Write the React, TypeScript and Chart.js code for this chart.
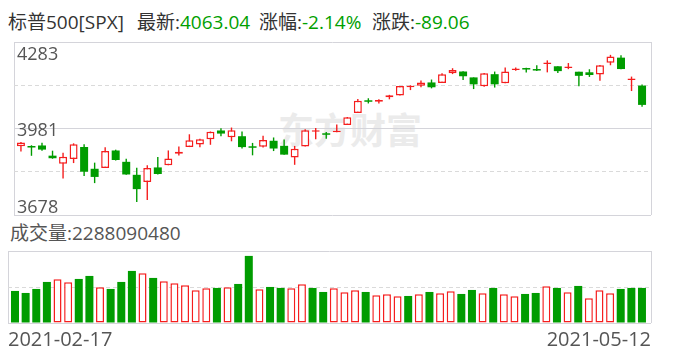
import React, { useEffect, useRef } from "react";
import { Chart, registerables } from "chart.js";

Chart.register(...registerables);

// ---------- data ----------
const TITLE = "标普500[SPX]";
const X_LABELS = ["2021-02-17", "2021-05-12"];

const OPEN = [
  3918.5, 3915.86, 3921.16, 3885.55, 3857.07, 3873.71, 3915.8, 3839.66, 3842.51, 3903.64,
  3863.99, 3818.53, 3793.58, 3844.39, 3851.93, 3891.99, 3915.54, 3924.52, 3942.96, 3973.59,
  3949.57, 3953.5, 3913.14, 3916.48, 3937.6, 3919.93, 3879.34, 3917.12, 3969.31, 3963.34,
  3967.25, 3992.78, 4034.44, 4075.57, 4074.29, 4089.95, 4096.11, 4124.71, 4130.1, 4141.58,
  4139.76, 4174.14, 4179.8, 4159.18, 4128.42, 4170.46, 4138.78, 4185.03, 4188.25, 4185.14,
  4206.14, 4198.1, 4191.98, 4179.04, 4177.06, 4169.14, 4210.34, 4228.29, 4150.34, 4130.55,
];
const HIGH = [
  3933.61, 3921.98, 3930.41, 3902.92, 3895.98, 3928.65, 3925.02, 3861.08, 3914.5, 3906.41,
  3874.47, 3843.67, 3851.69, 3881.06, 3903.76, 3917.35, 3960.27, 3944.99, 3970.08, 3981.04,
  3983.87, 3969.62, 3930.12, 3955.31, 3949.13, 3942.08, 3919.54, 3978.19, 3981.83, 3968.01,
  3994.41, 4020.63, 4083.42, 4086.23, 4083.13, 4098.19, 4129.48, 4131.76, 4148.0, 4151.69,
  4173.49, 4191.31, 4180.81, 4159.18, 4175.02, 4179.57, 4194.17, 4194.19, 4193.35, 4201.53,
  4218.78, 4198.1, 4209.39, 4179.04, 4187.72, 4202.7, 4238.04, 4236.39, 4162.04, 4134.73,
];
const LOW = [
  3900.43, 3885.03, 3903.07, 3874.71, 3805.59, 3859.6, 3814.04, 3789.54, 3842.51, 3868.57,
  3818.86, 3723.34, 3730.19, 3819.25, 3851.93, 3885.73, 3915.54, 3915.21, 3923.54, 3953.44,
  3935.74, 3910.86, 3886.75, 3914.16, 3901.57, 3889.07, 3853.5, 3917.12, 3943.25, 3944.35,
  3966.98, 3992.78, 4034.44, 4068.14, 4068.31, 4082.54, 4095.51, 4114.82, 4124.43, 4120.87,
  4139.76, 4170.75, 4150.47, 4118.38, 4126.35, 4123.69, 4138.78, 4182.36, 4176.22, 4181.78,
  4176.81, 4174.85, 4188.03, 4128.59, 4160.94, 4147.33, 4201.64, 4188.13, 4111.53, 4056.88,
];
const CLOSE = [
  3931.33, 3913.97, 3906.71, 3876.5, 3881.37, 3925.43, 3829.34, 3811.15, 3901.82, 3870.29,
  3819.72, 3768.47, 3841.94, 3821.35, 3875.44, 3898.81, 3939.34, 3943.34, 3968.94, 3962.71,
  3974.12, 3915.46, 3913.1, 3940.59, 3910.52, 3889.14, 3909.52, 3974.54, 3971.09, 3958.55,
  3972.89, 4019.87, 4077.91, 4073.94, 4079.95, 4097.17, 4128.8, 4127.99, 4141.59, 4124.66,
  4170.42, 4185.47, 4163.26, 4134.94, 4173.42, 4134.98, 4180.17, 4187.62, 4186.72, 4183.18,
  4211.47, 4181.17, 4192.66, 4164.66, 4167.59, 4201.62, 4232.6, 4188.43, 4152.1, 4063.04,
];
const PREV_CLOSE = 3932.59;

const VOLUME = [
  2092000000, 1961000000, 2223000000, 2680000000, 2855000000, 2658000000, 2876000000, 3072000000, 2332000000, 2223000000,
  2680000000, 3399000000, 3247000000, 2942000000, 2724000000, 2593000000, 2462000000, 2135000000, 2266000000, 2288000000,
  2332000000, 2549000000, 4380000000, 2201000000, 2353000000, 2288000000, 2266000000, 2528000000, 2288000000, 2026000000,
  2266000000, 2005000000, 2135000000, 2026000000, 1809000000, 1874000000, 1743000000, 1765000000, 1874000000, 2026000000,
  1939000000, 2070000000, 1896000000, 2157000000, 1939000000, 2288000000, 1874000000, 1743000000, 1896000000, 1961000000,
  2397000000, 2288000000, 2005000000, 2419000000, 1612000000, 2135000000, 1939000000, 2223000000, 2288000000, 2288090480,
];

const PRICE_MIN = 3678;
const PRICE_MAX = 4283;
const VOL_MAX = 4700000000;
const X_MIN = -0.66;
const X_MAX = 59.85;

// ---------- styles ----------
const RED = "#f51e1e";
const GREEN = "#009c00";
const TEXT_GREEN = "#00a000";
const BORDER = "#d4d4da";
const DASH = "#dadada";
const LABEL = "#555555";
const FONT = '"Open Sans", "Noto Sans CJK SC", sans-serif';

const PRICE_TICKS = [0, 1, 2, 3, 4].map((k) => PRICE_MIN + ((PRICE_MAX - PRICE_MIN) * k) / 4);
const VOL_TICKS = [0, VOL_MAX / 2, VOL_MAX];
// per-tick line heights used to nudge the three price labels (bottom, middle, top)
const TICK_LINE_HEIGHT = ["14px", "20px", "5px", "20px", "25px"];

function PriceChart() {
  const ref = useRef<HTMLCanvasElement>(null);
  useEffect(() => {
    const idx = CLOSE.map((_, i) => i);
    const up = idx.map((i) => CLOSE[i] >= OPEN[i]);
    const chart = new Chart(ref.current as HTMLCanvasElement, {
      type: "bar",
      data: {
        datasets: [
          {
            label: "wick",
            data: idx.map((i) => ({ x: i, y: [LOW[i], HIGH[i]] })),
            backgroundColor: idx.map((i) => (up[i] ? RED : GREEN)),
            borderWidth: 0,
            barThickness: 1.4,
            grouped: false,
            inflateAmount: 0,
            order: 2,
          },
          {
            label: "body",
            data: idx.map((i) => ({ x: i, y: [OPEN[i], CLOSE[i]] })),
            backgroundColor: idx.map((i) => (up[i] ? "#ffffff" : GREEN)),
            borderColor: idx.map((i) => (up[i] ? RED : GREEN)),
            borderWidth: idx.map((i) => (up[i] ? 1.5 : 0)),
            borderSkipped: false,
            barThickness: 8,
            minBarLength: 1.5,
            grouped: false,
            inflateAmount: 0,
            order: 1,
          },
        ],
      } as any,
      options: {
        responsive: false,
        animation: false,
        events: [],
        layout: { padding: { left: 8, right: 37, top: 42, bottom: 0 }, autoPadding: false },
        plugins: { legend: { display: false }, tooltip: { enabled: false } },
        scales: {
          x: {
            type: "linear",
            min: X_MIN,
            max: X_MAX,
            offset: false,
            afterBuildTicks: (s: any) => {
              s.ticks = [{ value: X_MIN }, { value: X_MAX }];
            },
            ticks: { display: false, autoSkip: false },
            grid: { color: BORDER, drawTicks: false, offset: false },
            border: { display: false },
          },
          y: {
            type: "linear",
            min: PRICE_MIN,
            max: PRICE_MAX,
            afterBuildTicks: (s: any) => {
              s.ticks = PRICE_TICKS.map((v) => ({ value: v }));
            },
            ticks: {
              mirror: true,
              padding: 3,
              autoSkip: false,
              color: LABEL,
              font: (ctx: any) => ({ family: FONT, size: 18, lineHeight: TICK_LINE_HEIGHT[ctx.index] || "20px" }),
              callback: (v: any, i: number) => {
                const t = String(Math.round(Number(v)));
                if (i === 4 || i === 2) return ["", t];
                if (i === 0) return [t, ""];
                return "";
              },
            },
            grid: {
              color: (ctx: any) => (ctx.index === 1 || ctx.index === 3 ? DASH : BORDER),
              drawTicks: false,
            },
            border: {
              display: false,
              dash: (ctx: any) => (ctx.index === 1 || ctx.index === 3 ? [4, 3] : []),
            },
          },
        },
      } as any,
    });
    return () => chart.destroy();
  }, []);
  return (
    <canvas
      ref={ref}
      width={688}
      height={232}
      style={{ position: "absolute", left: 0, top: 0, width: 688, height: 232, zIndex: 1 }}
    />
  );
}

function VolumeChart() {
  const ref = useRef<HTMLCanvasElement>(null);
  useEffect(() => {
    const idx = VOLUME.map((_, i) => i);
    const rise = idx.map((i) => CLOSE[i] >= (i === 0 ? PREV_CLOSE : CLOSE[i - 1]));
    const chart = new Chart(ref.current as HTMLCanvasElement, {
      type: "bar",
      data: {
        datasets: [
          {
            label: "volume",
            data: idx.map((i) => ({ x: i, y: VOLUME[i] })),
            backgroundColor: idx.map((i) => (rise[i] ? "#ffffff" : GREEN)),
            borderColor: idx.map((i) => (rise[i] ? RED : GREEN)),
            borderWidth: idx.map((i) => (rise[i] ? 1.5 : 0)),
            borderSkipped: false,
            barThickness: 8,
            grouped: false,
            inflateAmount: 0,
          },
        ],
      } as any,
      options: {
        responsive: false,
        animation: false,
        events: [],
        layout: { padding: { left: 8, right: 37, top: 11, bottom: 7 }, autoPadding: false },
        plugins: { legend: { display: false }, tooltip: { enabled: false } },
        scales: {
          x: {
            type: "linear",
            min: X_MIN,
            max: X_MAX,
            offset: false,
            afterBuildTicks: (s: any) => {
              s.ticks = [{ value: X_MIN }, { value: X_MAX }];
            },
            afterFit: (s: any) => {
              s.height = 30;
            },
            ticks: {
              display: true,
              autoSkip: false,
              align: "inner",
              padding: 7,
              maxRotation: 0,
              minRotation: 0,
              color: LABEL,
              font: { family: FONT, size: 20, lineHeight: "20px" },
              callback: (_v: any, i: number) => X_LABELS[i],
            },
            grid: { color: BORDER, drawTicks: false, offset: false },
            border: { display: false },
          },
          y: {
            type: "linear",
            min: 0,
            max: VOL_MAX,
            afterBuildTicks: (s: any) => {
              s.ticks = VOL_TICKS.map((v) => ({ value: v }));
            },
            ticks: { display: false, autoSkip: false },
            grid: {
              color: (ctx: any) => (ctx.index === 1 ? DASH : BORDER),
              drawTicks: false,
            },
            border: {
              display: false,
              dash: (ctx: any) => (ctx.index === 1 ? [4, 3] : []),
            },
          },
        },
      } as any,
    });
    return () => chart.destroy();
  }, []);
  return (
    <canvas
      ref={ref}
      width={688}
      height={120}
      style={{ position: "absolute", left: 0, top: 240, width: 688, height: 120, zIndex: 1 }}
    />
  );
}

export default function App() {
  const n = CLOSE.length;
  const last = CLOSE[n - 1];
  const change = last - CLOSE[n - 2];
  const pct = (change / CLOSE[n - 2]) * 100;
  const headStyle: React.CSSProperties = {
    position: "absolute",
    top: 10,
    fontFamily: FONT,
    fontSize: 19,
    lineHeight: "24px",
    color: "#333",
    whiteSpace: "nowrap",
  };
  return (
    <div style={{ position: "absolute", left: 0, top: 0, width: 688, height: 360, background: "#fff", overflow: "hidden" }}>
      <div style={{ ...headStyle, left: 8 }}>{TITLE}</div>
      <div style={{ ...headStyle, left: 137 }}>
        最新:<span style={{ color: TEXT_GREEN }}>{last.toFixed(2)}</span>
      </div>
      <div style={{ ...headStyle, left: 259 }}>
        涨幅:<span style={{ color: TEXT_GREEN }}>{pct.toFixed(2)}%</span>
      </div>
      <div style={{ ...headStyle, left: 372 }}>
        涨跌:<span style={{ color: TEXT_GREEN }}>{change.toFixed(2)}</span>
      </div>
      <div
        style={{
          position: "absolute",
          left: 278,
          top: 106,
          fontFamily: '"Noto Sans CJK SC", sans-serif',
          fontWeight: 700,
          fontSize: 36,
          lineHeight: "44px",
          color: "#ebebeb",
          zIndex: 0,
        }}
      >
        东方财富
      </div>
      <PriceChart />
      <div style={{ ...headStyle, top: 221, left: 10, color: LABEL }}>
        成交量:{VOLUME[n - 1]}
      </div>
      <VolumeChart />
    </div>
  );
}
